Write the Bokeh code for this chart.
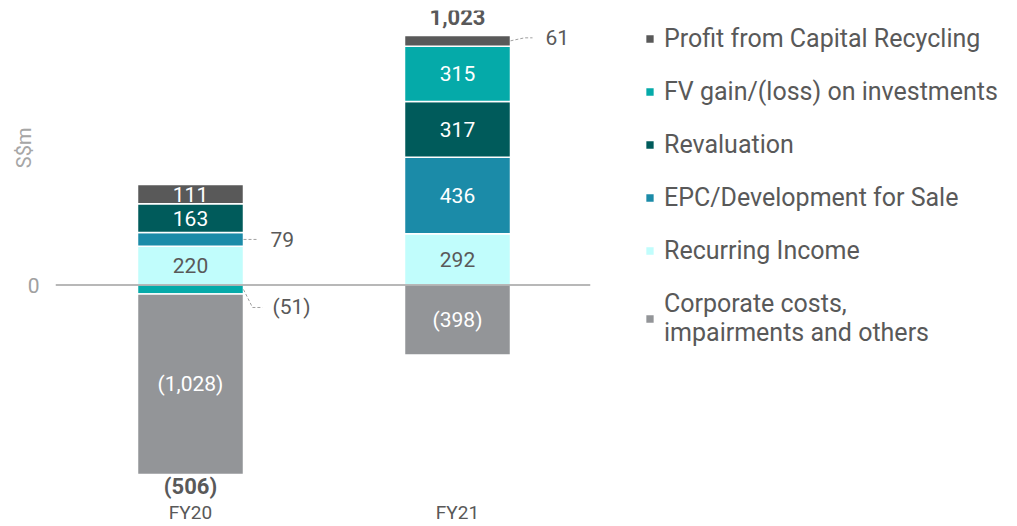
import numpy as np
from bokeh.plotting import figure
from bokeh.models import (ColumnDataSource, Range1d, FixedTicker, Span, Legend,
                          LegendItem, Title)
from bokeh.core.properties import value
from bokeh.embed import file_html
from bokeh.resources import INLINE

# ---------------- data ----------------
categories = ["FY20", "FY21"]
series_names = ["Recurring Income", "EPC/Development for Sale", "Revaluation",
                "FV gain/(loss) on investments", "Profit from Capital Recycling",
                "Corporate costs,\nimpairments and others"]
recurring = [220, 292]
epc = [79, 436]
revaluation = [163, 317]
fv_gain = [-51, 315]
capital_recycling = [111, 61]
corporate = [-1028, -398]
series_values = [recurring, epc, revaluation, fv_gain, capital_recycling, corporate]
colors = ["#C1FDFC", "#1B8BA8", "#005B5B", "#05AAA9", "#595959", "#939598"]
label_colors = ["#595959", "white", "white", "white", "white", "white"]
legend_order = [4, 3, 2, 1, 0, 5]
y_tick_labels = {0: "0"}
y_title = "S$m"

# ---------------- layout constants ----------------
FONT = "Roboto"
FRAME_W, FRAME_H = 535, 490
PX_PER_CAT = 267.0          # pixels per category step
PX_PER_UNIT = 0.1756        # pixels per S$m
ZERO_FROM_TOP = 274.5       # pixels from frame top to zero line
xs = np.arange(len(categories), dtype=float)
x_start = -135.0 / PX_PER_CAT
x_end = x_start + FRAME_W / PX_PER_CAT
y_end = ZERO_FROM_TOP / PX_PER_UNIT
y_start = -(FRAME_H - ZERO_FROM_TOP) / PX_PER_UNIT
BAR_W = 106.0 / PX_PER_CAT

def dx(px):
    return px / PX_PER_CAT

def dy(px):
    return px / PX_PER_UNIT

def fmt(v):
    s = f"{abs(v):,}"
    return f"({s})" if v < 0 else s

p = figure(frame_width=FRAME_W, frame_height=FRAME_H, output_backend="svg",
           toolbar_location=None, x_range=Range1d(x_start, x_end),
           y_range=Range1d(y_start, y_end), min_border_left=55,
           min_border_top=10, min_border_bottom=0, min_border_right=405)
p.grid.visible = False
p.outline_line_color = None
p.background_fill_color = "white"
p.border_fill_color = "white"

# stacking
pos_base = np.zeros(len(categories))
neg_base = np.zeros(len(categories))
renderers = []
inside_x, inside_y, inside_t, inside_c = [], [], [], []
outside = []  # (x, y, text, value)
for i, vals in enumerate(series_values):
    v = np.array(vals, dtype=float)
    bottom = np.where(v >= 0, pos_base, neg_base)
    top = bottom + v
    pos_base = np.where(v >= 0, top, pos_base)
    neg_base = np.where(v < 0, top, neg_base)
    src = ColumnDataSource(dict(x=xs, top=top, bottom=bottom))
    r = p.vbar(x="x", top="top", bottom="bottom", width=BAR_W, source=src,
               fill_color=colors[i], line_color="white", line_width=1.5)
    renderers.append(r)
    for j in range(len(categories)):
        mid = (top[j] + bottom[j]) / 2.0
        if abs(v[j]) >= 100:
            inside_x.append(xs[j]); inside_y.append(mid)
            inside_t.append(fmt(int(v[j]))); inside_c.append(label_colors[i])
        else:
            outside.append((xs[j], mid, fmt(int(v[j])), v[j]))

p.text(x=inside_x, y=inside_y, text=inside_t, text_color=inside_c,
       text_font=value(FONT), text_font_size="21px", text_align="center",
       text_baseline="middle")

# outside labels with dashed leaders
for (x, y, t, v) in outside:
    xr = x + BAR_W / 2.0
    if v < 0:
        pts_x = [xr, xr + dx(9), xr + dx(19)]
        pts_y = [y, y - dy(18), y - dy(18)]
        lx, ly = xr + dx(29), y - dy(18)
    elif y > 1000:
        pts_x = [xr, xr + dx(14), xr + dx(22)]
        pts_y = [y, y + dy(3), y + dy(3)]
        lx, ly = xr + dx(35), y + dy(3)
    else:
        pts_x = [xr, xr + dx(14)]
        pts_y = [y, y]
        lx, ly = xr + dx(27), y
    p.line(pts_x, pts_y, line_color="#A0A0A0", line_width=1, line_dash="3 2")
    p.text(x=[lx], y=[ly], text=[t], text_color="#595959",
           text_font=value(FONT), text_font_size="21px", text_align="left",
           text_baseline="middle")

# totals
totals = np.sum(np.array(series_values, dtype=float), axis=0)
for j in range(len(categories)):
    t = int(totals[j])
    if t >= 0:
        p.text(x=[xs[j]], y=[pos_base[j]], text=[fmt(t)], text_color="#595959",
               text_font=value(FONT), text_font_size="22px",
               text_font_style="bold", text_align="center",
               text_baseline="bottom", y_offset=-10)
    else:
        p.text(x=[xs[j]], y=[neg_base[j]], text=[fmt(t)], text_color="#595959",
               text_font=value(FONT), text_font_size="22px",
               text_font_style="bold", text_align="center",
               text_baseline="top", y_offset=0)

# zero line
p.add_layout(Span(location=0, dimension="width", line_color="#A0A0A0",
                  line_width=1.5))

# axes
p.xaxis.ticker = FixedTicker(ticks=list(xs))
p.xaxis.major_label_overrides = {int(i): c for i, c in enumerate(categories)}
p.xaxis.axis_line_color = None
p.xaxis.major_tick_line_color = None
p.xaxis.minor_tick_line_color = None
p.xaxis.major_tick_out = 0
p.xaxis.major_label_standoff = 0
p.xaxis.major_label_text_font = FONT
p.xaxis.major_label_text_font_size = "19px"
p.xaxis.major_label_text_color = "#595959"

p.yaxis.ticker = FixedTicker(ticks=list(y_tick_labels.keys()))
p.yaxis.major_label_overrides = y_tick_labels
p.yaxis.axis_line_color = None
p.yaxis.major_tick_line_color = None
p.yaxis.minor_tick_line_color = None
p.yaxis.major_tick_out = 0
p.yaxis.major_label_standoff = 16
p.yaxis.major_label_text_font = FONT
p.yaxis.major_label_text_font_size = "21px"
p.yaxis.major_label_text_color = "#A0A0A0"

p.add_layout(Title(text=y_title, align="right", offset=117, standoff=-22,
                   text_font=FONT, text_font_size="20px",
                   text_font_style="normal", text_color="#A6A6A6"), "left")

# legend
items = [LegendItem(label=series_names[k], renderers=[renderers[k]])
         for k in legend_order]
legend = Legend(items=items, location=(54, 153), margin=0, padding=0,
                border_line_color=None, background_fill_alpha=0,
                glyph_width=11, glyph_height=11, label_standoff=9,
                label_text_font=FONT, label_text_font_size="25px",
                label_text_color="#595959", label_height=28, spacing=24)
p.add_layout(legend, "right")

open("out.html", "w").write(file_html(p, INLINE))
